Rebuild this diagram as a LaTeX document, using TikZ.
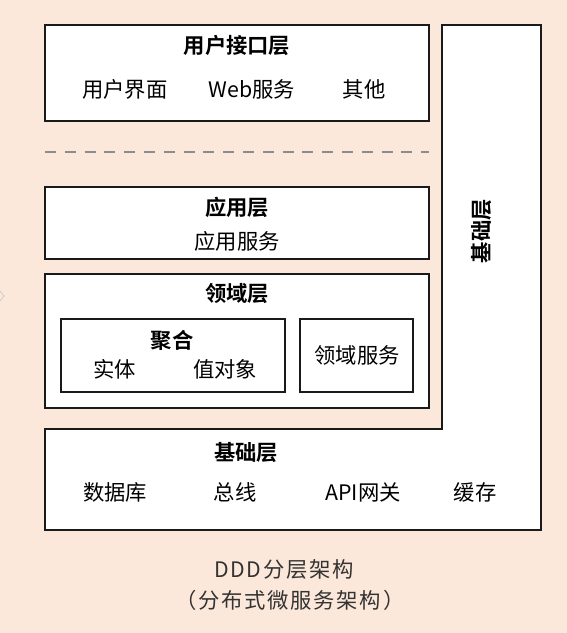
\documentclass[tikz,border=0pt]{standalone}
\usepackage{fontspec}
\setmainfont{Noto Sans CJK SC}[BoldFont={Noto Sans CJK SC Bold}]
\definecolor{bg}{RGB}{252,232,218}
\definecolor{edge}{RGB}{26,26,26}
\definecolor{cap}{RGB}{51,51,51}
\definecolor{dashgray}{RGB}{140,140,140}
\tikzset{
  boxline/.style={draw=edge, line width=1.2pt},
  box/.style={boxline, fill=white, inner sep=0pt, outer sep=0pt},
  txt/.style={inner sep=0pt, text=black, font=\fontsize{16}{19}\selectfont},
  head/.style={inner sep=0pt, text=black, font=\fontsize{16}{19}\selectfont\bfseries},
  captxt/.style={inner sep=0pt, text=cap, font=\fontsize{16}{19}\selectfont\addfontfeature{LetterSpace=8}},
  sep/.style={draw=dashgray, line width=0.8pt, dash pattern=on 8.25pt off 6.6pt}
}
\begin{document}
\begin{tikzpicture}[x=0.75pt,y=-0.75pt]
\fill[bg] (0,0) rectangle (567,633);
\useasboundingbox (0,0) rectangle (567,633);

% small artifact at left edge
\coordinate (ma) at (0,291);
\coordinate (mb) at (4,296);
\coordinate (mc) at (0,301);
\draw[gray!45, line width=0.5pt] (ma) -- (mb) -- (mc);

% user interface layer
\node[box, minimum width=288pt, minimum height=72pt] (ui) at (237,73) {};
\node[head] (uih) at (237,45) {用户接口层};
\node[txt] (ui1) at (125,89) {用户界面};
\node[txt] (ui2) at (252,89) {Web服务};
\node[txt] (ui3) at (364,89) {其他};

% dashed separator
\coordinate (dl) at (45,152);
\coordinate (dr) at (429,152);
\draw[sep] (dl) -- (dr);

% application layer
\node[box, minimum width=288pt, minimum height=54pt] (app) at (237,223) {};
\node[head] (apph) at (237,207) {应用层};
\node[txt] (app1) at (237,241) {应用服务};

% domain layer
\node[box, minimum width=288pt, minimum height=100.5pt] (dom) at (237,341) {};
\node[head] (domh) at (237,293) {领域层};
\node[box, minimum width=168pt, minimum height=54.75pt] (agg) at (173,355.5) {};
\node[head] (aggh) at (172,340) {聚合};
\node[txt] (agg1) at (115,369) {实体};
\node[txt] (agg2) at (225,369) {值对象};
\node[box, minimum width=84.75pt, minimum height=54.75pt] (dsvc) at (356.5,355.5) {};
\node[txt] (dsvct) at (357,355) {领域服务};

% infrastructure layer (L shape)
\coordinate (L1) at (45,429);
\coordinate (L2) at (442,429);
\coordinate (L3) at (442,25);
\coordinate (L4) at (541,25);
\coordinate (L5) at (541,530);
\coordinate (L6) at (45,530);
\draw[boxline, fill=white] (L1) -- (L2) -- (L3) -- (L4) -- (L5) -- (L6) -- cycle;
\node[head, rotate=90] (infv) at (482,231) {基础层};
\node[head] (infh) at (246,453) {基础层};
\node[txt] (inf1) at (115,492) {数据库};
\node[txt] (inf2) at (235,492) {总线};
\node[txt] (inf3) at (363,492) {API网关};
\node[txt] (inf4) at (475,492) {缓存};

% caption
\node[captxt] (cap1) at (284,569) {DDD分层架构};
\node[captxt] (cap2) at (290,600) {（分布式微服务架构）};
\end{tikzpicture}
\end{document}
